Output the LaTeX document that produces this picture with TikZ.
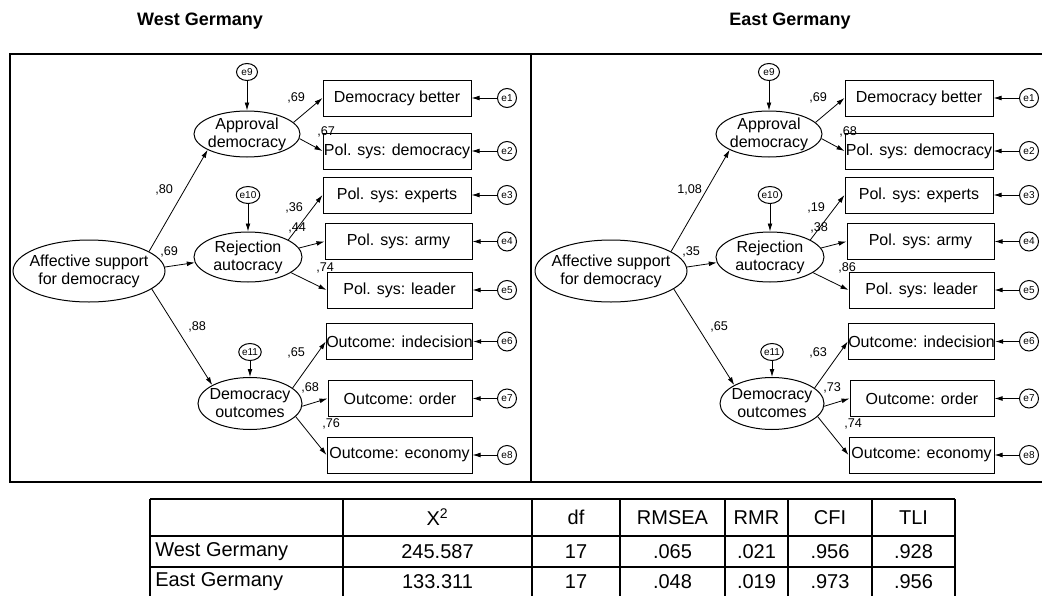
\documentclass[tikz,border=0pt]{standalone}
\usepackage{fontspec}
\setmainfont{Liberation Sans}
\usetikzlibrary{shapes.geometric,arrows.meta}

% font sizes
\newcommand\fmain{\fontsize{12pt}{13.5pt}\selectfont}
\newcommand\fcoef{\fontsize{9.5pt}{11pt}\selectfont}
\newcommand\ferr{\fontsize{7.5pt}{9pt}\selectfont}
\newcommand\ftitle{\fontsize{13.5pt}{16pt}\selectfont\bfseries}
\newcommand\ftab{\fontsize{15pt}{18pt}\selectfont}

\tikzset{
  latent/.style={draw, ellipse, inner sep=0pt, line width=0.75pt},
  ltxt/.style={align=center, font=\fmain, inner sep=0pt},
  indic/.style={draw, rectangle, inner sep=0pt, minimum height=27pt, font=\fmain, line width=0.75pt},
  errc/.style={draw, circle, inner sep=0pt, minimum size=14.25pt, font=\ferr, line width=0.75pt},
  disturb/.style={draw, ellipse, inner sep=0pt, minimum width=15.75pt, minimum height=12.75pt, font=\ferr, line width=0.75pt},
  arr/.style={-{Latex[length=6pt,width=3.6pt]}, line width=0.6pt},
  coef/.style={anchor=west, inner sep=0pt, font=\fcoef},
  frame/.style={line width=1.9pt},
  grid/.style={line width=1.5pt},
  title/.style={font=\ftitle, inner sep=0pt},
  tcell/.style={font=\ftab, inner sep=0pt},
}

% one measurement model; #1 = name prefix, coefficients in \coefA..\coefK
\newcommand\sempanel[1]{%
  \node[latent, minimum width=114pt, minimum height=46.5pt,
        label={[ltxt]center:Affective support\\for democracy}] (#1aff) at (89,271) {};
  \node[latent, minimum width=79.5pt, minimum height=34.5pt,
        label={[ltxt]center:Approval\\democracy}] (#1appr) at (247,134) {};
  \node[latent, minimum width=81pt, minimum height=37.5pt,
        label={[ltxt]center:Rejection\\autocracy}] (#1rej) at (248,257) {};
  \node[latent, minimum width=78pt, minimum height=39pt,
        label={[ltxt]center:Democracy\\outcomes}] (#1out) at (250,403.5) {};
  \node[disturb] (#1e9) at (247,72) {e9};
  \node[disturb] (#1e10) at (248,195) {e10};
  \node[disturb] (#1e11) at (250,352) {e11};
  \node[indic, minimum width=111pt] (#1b1) at (397,98) {Democracy better};
  \node[indic, minimum width=111pt] (#1b2) at (397,151) {Pol. sys: democracy};
  \node[indic, minimum width=111pt] (#1b3) at (397,195) {Pol. sys: experts};
  \node[indic, minimum width=110.25pt] (#1b4) at (398.5,241.5) {Pol. sys: army};
  \node[indic, minimum width=108.75pt] (#1b5) at (399.5,290) {Pol. sys: leader};
  \node[indic, minimum width=108.75pt] (#1b6) at (399.5,341.5) {Outcome: indecision};
  \node[indic, minimum width=108pt] (#1b7) at (400,398.5) {Outcome: order};
  \node[indic, minimum width=108.75pt] (#1b8) at (399.5,455) {Outcome: economy};
  \node[errc] (#1e1) at (507,98) {e1};
  \node[errc] (#1e2) at (507,151) {e2};
  \node[errc] (#1e3) at (507,195) {e3};
  \node[errc] (#1e4) at (507,241.5) {e4};
  \node[errc] (#1e5) at (507,290) {e5};
  \node[errc] (#1e6) at (507,341.5) {e6};
  \node[errc] (#1e7) at (507,398.5) {e7};
  \node[errc] (#1e8) at (507,455) {e8};
  % structural paths
  \draw[arr] (#1aff.18) -- (#1appr.202);
  \draw[arr] (#1aff.3) -- (#1rej.186);
  \draw[arr] (#1aff.-16) -- (#1out.154);
  % loadings
  \draw[arr] (#1appr.14) -- (#1b1.west);
  \draw[arr] (#1appr.-5) -- (#1b2.west);
  \draw[arr] (#1rej.23) -- (#1b3.west);
  \draw[arr] (#1rej.10) -- (#1b4.west);
  \draw[arr] (#1rej.-20) -- (#1b5.west);
  \draw[arr] (#1out.20) -- (#1b6.west);
  \draw[arr] (#1out.-3) -- (#1b7.west);
  \draw[arr] (#1out.-16) -- (#1b8.west);
  % disturbances and measurement errors
  \draw[arr] (#1e9) -- (#1appr);
  \draw[arr] (#1e10) -- (#1rej);
  \draw[arr] (#1e11) -- (#1out);
  \foreach \k in {1,...,8} {\draw[arr] (#1e\k) -- (#1b\k);}
  % coefficients
  \node[coef] (#1cA) at (155,190) {\coefA};
  \node[coef] (#1cB) at (160,252) {\coefB};
  \node[coef] (#1cC) at (188,327) {\coefC};
  \node[coef] (#1cD) at (287,98) {\coefD};
  \node[coef] (#1cE) at (317,132) {\coefE};
  \node[coef] (#1cF) at (285,208) {\coefF};
  \node[coef] (#1cG) at (288,228) {\coefG};
  \node[coef] (#1cH) at (316,268) {\coefH};
  \node[coef] (#1cI) at (287,353) {\coefI};
  \node[coef] (#1cJ) at (301,388) {\coefJ};
  \node[coef] (#1cK) at (322,424) {\coefK};
}

\begin{document}
\begin{tikzpicture}[x=0.75pt, y=-0.75pt]
\useasboundingbox (0,0) rectangle (1042,596);

% titles
\node[title] (wtitle) at (200,21) {West Germany};
\node[title] (etitle) at (790,21) {East Germany};

% panel frames
\draw[frame] (10,54) rectangle (531,482);
\draw[frame] (1042,54) -- (531,54) -- (531,482) -- (1042,482);

% West Germany
\def\coefA{,80}\def\coefB{,69}\def\coefC{,88}\def\coefD{,69}\def\coefE{,67}
\def\coefF{,36}\def\coefG{,44}\def\coefH{,74}\def\coefI{,65}\def\coefJ{,68}\def\coefK{,76}
\begin{scope}
  \sempanel{W}
\end{scope}

% East Germany
\def\coefA{1,08}\def\coefB{,35}\def\coefC{,65}\def\coefD{,69}\def\coefE{,68}
\def\coefF{,19}\def\coefG{,38}\def\coefH{,86}\def\coefI{,63}\def\coefJ{,73}\def\coefK{,74}
\begin{scope}[shift={(522,0)}]
  \sempanel{E}
\end{scope}

% fit table
\draw[grid] (150,499) -- (955,499);
\draw[grid] (150,536) -- (955,536);
\draw[grid] (150,567) -- (955,567);
\foreach \x in {150,343,532,620,725,788,872,955} {\draw[grid] (\x,499) -- (\x,596);}

\node[tcell] (hchi) at (437.5,517.5) {X\textsuperscript{2}};
\node[tcell] (hdf) at (576,517.5) {df};
\node[tcell] (hrmsea) at (672.5,517.5) {RMSEA};
\node[tcell] (hrmr) at (756.5,517.5) {RMR};
\node[tcell] (hcfi) at (830,517.5) {CFI};
\node[tcell] (htli) at (913.5,517.5) {TLI};

\node[tcell, anchor=west] (rw) at (155,551.5) {West Germany};
\node[tcell] (rwchi) at (437.5,551.5) {245.587};
\node[tcell] (rwdf) at (576,551.5) {17};
\node[tcell] (rwrmsea) at (672.5,551.5) {.065};
\node[tcell] (rwrmr) at (756.5,551.5) {.021};
\node[tcell] (rwcfi) at (830,551.5) {.956};
\node[tcell] (rwtli) at (913.5,551.5) {.928};

\node[tcell, anchor=west] (re) at (155,582) {East Germany};
\node[tcell] (rechi) at (437.5,582) {133.311};
\node[tcell] (redf) at (576,582) {17};
\node[tcell] (rermsea) at (672.5,582) {.048};
\node[tcell] (rermr) at (756.5,582) {.019};
\node[tcell] (recfi) at (830,582) {.973};
\node[tcell] (retli) at (913.5,582) {.956};
\end{tikzpicture}
\end{document}
